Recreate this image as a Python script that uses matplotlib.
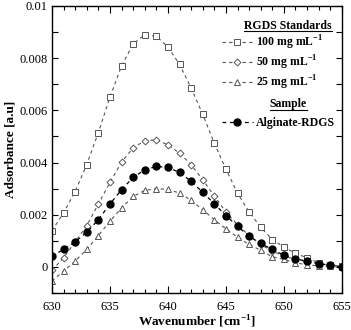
import numpy as np
import matplotlib
matplotlib.use("Agg")
import matplotlib.pyplot as plt
from matplotlib.ticker import MultipleLocator, FuncFormatter
from matplotlib.lines import Line2D

plt.rcParams['font.family'] = ['Liberation Serif', 'DejaVu Serif']
plt.rcParams['mathtext.fontset'] = 'custom'
plt.rcParams['mathtext.rm'] = 'Liberation Serif'
plt.rcParams['mathtext.bf'] = 'Liberation Serif:bold'

wavenumber = np.arange(630, 656)

# absorbance values (x 1e-3)
std_100 = [1.39, 2.07, 2.89, 3.92, 5.15, 6.50, 7.70, 8.54, 8.90, 8.84, 8.43, 7.76, 6.86,
           5.85, 4.74, 3.75, 2.83, 2.11, 1.52, 1.05, 0.76, 0.52, 0.35, 0.16, 0.08, 0.03]
std_50 = [-0.13, 0.35, 0.96, 1.58, 2.41, 3.24, 4.01, 4.57, 4.83, 4.87, 4.68, 4.36, 3.92,
          3.34, 2.72, 2.10, 1.62, 1.20, 0.86, 0.60, 0.42, 0.29, 0.20, 0.12, 0.06, 0.02]
std_25 = [-0.54, -0.16, 0.22, 0.67, 1.20, 1.75, 2.26, 2.70, 2.93, 3.00, 2.97, 2.83, 2.55,
          2.19, 1.81, 1.46, 1.14, 0.86, 0.64, 0.39, 0.29, 0.16, 0.08, 0.04, 0.02, 0.00]
sample = [0.41, 0.67, 0.96, 1.33, 1.81, 2.41, 2.96, 3.43, 3.72, 3.85, 3.81, 3.62, 3.28,
          2.86, 2.42, 1.97, 1.56, 1.18, 0.90, 0.67, 0.45, 0.31, 0.22, 0.13, 0.06, 0.01]

fig = plt.figure(figsize=(3.51, 3.30), dpi=100)
ax = fig.add_axes([0.148, 0.112, 0.826, 0.870])

gray = '#555555'
l100, = ax.plot(wavenumber, np.array(std_100) * 1e-3, ls=(0, (3, 3)), lw=0.8, color=gray,
                marker='s', ms=4.5, mfc='white', mec=gray, mew=0.7)
l50, = ax.plot(wavenumber, np.array(std_50) * 1e-3, ls=(0, (3, 3)), lw=0.8, color=gray,
               marker='D', ms=3.5, mfc='white', mec=gray, mew=0.7)
l25, = ax.plot(wavenumber, np.array(std_25) * 1e-3, ls=(0, (3, 3)), lw=0.8, color=gray,
               marker='^', ms=5, mfc='white', mec=gray, mew=0.7)
ls_, = ax.plot(wavenumber, np.array(sample) * 1e-3, ls=(0, (3, 3)), lw=0.9, color='black',
               marker='o', ms=5, mfc='black', mec='black')

ax.set_xlim(630, 655)
ax.set_ylim(-0.001, 0.01)
ax.xaxis.set_major_locator(MultipleLocator(5))
ax.xaxis.set_minor_locator(MultipleLocator(1))
ax.yaxis.set_major_locator(MultipleLocator(0.002))
ax.yaxis.set_minor_locator(MultipleLocator(0.001))


def yfmt(v, pos):
    if abs(v) < 1e-9:
        return '0'
    return ('%.3f' % v).rstrip('0')


ax.yaxis.set_major_formatter(FuncFormatter(yfmt))
ax.tick_params(which='both', direction='in', top=True, right=True, labelsize=9, width=0.8)
ax.tick_params(axis='x', which='major', length=5, pad=6)
ax.tick_params(axis='x', which='minor', length=3)
ax.tick_params(axis='y', which='both', length=4, pad=3)
for s in ax.spines.values():
    s.set_linewidth(1.0)

ax.set_xlabel('Wavenumber [cm$^{\\mathbf{-1}}$]', fontsize=9.5, fontweight='bold', labelpad=0)
ax.set_ylabel('Adsorbance [a.u]', fontsize=9.5, fontweight='bold', labelpad=2)

leg_kw = dict(frameon=False, prop={'weight': 'bold', 'size': 8.5}, handlelength=2.6,
              handletextpad=0.3, labelspacing=0.15, borderaxespad=0, borderpad=0)
leg1 = ax.legend([l100, l50, l25],
                 ['100 mg mL$^{\\mathbf{-1}}$', '50 mg mL$^{\\mathbf{-1}}$', '25 mg mL$^{\\mathbf{-1}}$'],
                 loc='upper left', bbox_to_anchor=(0.586, 0.905), **leg_kw)
ax.add_artist(leg1)
leg2 = ax.legend([ls_], ['Alginate-RDGS'], loc='upper left', bbox_to_anchor=(0.586, 0.614), **leg_kw)

t1 = ax.text(0.815, 0.952, 'RGDS Standards', transform=ax.transAxes, ha='center', va='top',
             fontsize=8.5, fontweight='bold')
t2 = ax.text(0.815, 0.678, 'Sample', transform=ax.transAxes, ha='center', va='top',
             fontsize=8.5, fontweight='bold')

fig.canvas.draw()
r = fig.canvas.get_renderer()
inv = ax.transAxes.inverted()
for t in (t1, t2):
    bb = t.get_window_extent(r)
    (x0, y0), (x1, y1) = inv.transform([[bb.x0, bb.y0], [bb.x1, bb.y1]])
    ax.add_line(Line2D([x0, x1], [y0 + 0.003, y0 + 0.003], transform=ax.transAxes,
                       color='black', lw=0.8))

fig.savefig('out.png', dpi=100)
